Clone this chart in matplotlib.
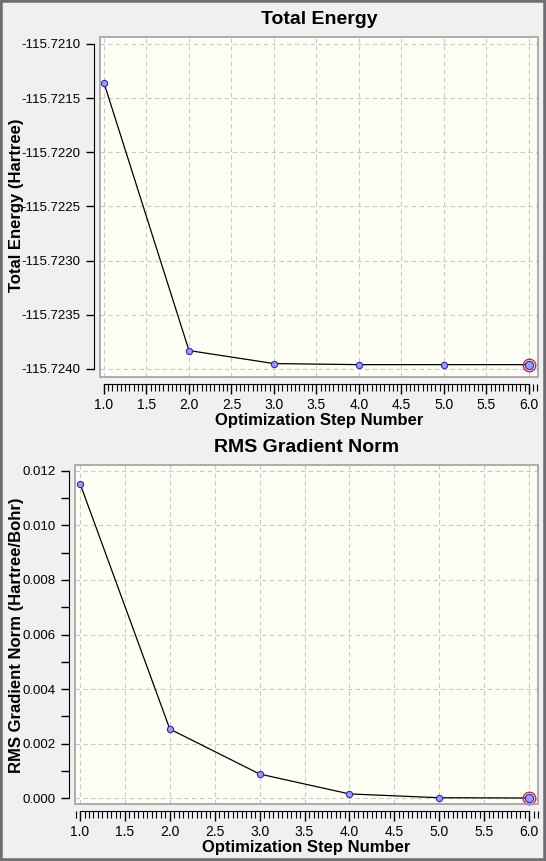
import matplotlib
matplotlib.use("Agg")
import matplotlib.pyplot as plt
from matplotlib.patches import Rectangle
from matplotlib.ticker import MultipleLocator, FormatStrFormatter

steps = [1, 2, 3, 4, 5, 6]
energy = [-115.72136, -115.72383, -115.72395, -115.72396, -115.72396, -115.72396]
rms_grad = [0.01154, 0.00253, 0.00088, 0.00015, 0.00001, 0.0]

plt.rcParams['font.family'] = ['Liberation Sans', 'DejaVu Sans']

W, H = 546, 861
fig = plt.figure(figsize=(W / 100, H / 100), dpi=100)
fig.patch.set_facecolor('#f0f0f0')
# dark window frame
fig.patches.append(Rectangle((0, 0), 1, 1, transform=fig.transFigure, fill=False,
                             edgecolor='#6e6e74', linewidth=4, zorder=10))


def make_axes(left, right, top, bottom):
    return fig.add_axes([left / W, 1 - bottom / H, (right - left) / W, (bottom - top) / H])


def style(ax, xlim, ylim, ymajor, yminor, fmt, title, ylabel, ylab_y):
    ax.set_facecolor('#fffff6')
    for s in ['top', 'right']:
        ax.spines[s].set_visible(False)
    ax.spines['left'].set_position(('outward', 4))
    ax.spines['bottom'].set_position(('outward', 5))
    ax.spines['left'].set_bounds(ymajor[0], ymajor[-1])
    ax.spines['bottom'].set_bounds(1.0, 6.0)
    ax.add_patch(Rectangle((0, 0), 1, 1, transform=ax.transAxes, fill=False,
                           edgecolor='#a0a0a0', linewidth=1.2, clip_on=False, zorder=5))
    ax.set_xlim(*xlim)
    ax.set_ylim(*ylim)
    ax.set_xticks([1.0, 1.5, 2.0, 2.5, 3.0, 3.5, 4.0, 4.5, 5.0, 5.5, 6.0])
    ax.xaxis.set_minor_locator(MultipleLocator(0.05))
    ax.xaxis.set_major_formatter(FormatStrFormatter('%.1f'))
    ax.set_yticks(ymajor)
    if yminor is not None:
        ax.set_yticks(yminor, minor=True)
    ax.yaxis.set_major_formatter(FormatStrFormatter(fmt))
    ax.tick_params(axis='x', which='major', length=7, width=1, labelsize=10, pad=3)
    ax.tick_params(axis='y', which='major', length=6, width=1, labelsize=9.5, pad=4)
    ax.tick_params(axis='x', which='minor', length=5, width=0.8)
    ax.tick_params(axis='y', which='minor', length=6, width=1)
    ax.grid(True, which='major', linestyle=(0, (4, 3)), color='#c8c8c8', linewidth=0.8)
    ax.set_title(title, fontsize=14, fontweight='bold', pad=9)
    ax.set_xlabel('Optimization Step Number', fontsize=12, fontweight='bold', labelpad=1)
    fig.text(17 / W, 1 - ylab_y / H, ylabel, rotation=90, fontsize=12, fontweight='bold',
             ha='center', va='center')


def draw(ax, x, y):
    ax.plot(x, y, color='black', linewidth=0.9, zorder=3)
    ax.plot(x, y, linestyle='none', marker='o', markersize=4.5,
            markerfacecolor='#9a9cf0', markeredgecolor='#2828c0', markeredgewidth=0.8, zorder=4)
    ax.plot(x[-1:], y[-1:], linestyle='none', marker='o', markersize=9,
            markerfacecolor='none', markeredgecolor='#d0204a', markeredgewidth=1.0, zorder=4,
            clip_on=False)
    ax.plot(x[-1:], y[-1:], linestyle='none', marker='o', markersize=6,
            markerfacecolor='#9a9cf0', markeredgecolor='#2828c0', markeredgewidth=0.8, zorder=4,
            clip_on=False)


ax1 = make_axes(100, 538, 37, 377)
e_ticks = [-115.7240, -115.7235, -115.7230, -115.7225, -115.7220, -115.7215, -115.7210]
style(ax1, (0.953, 6.106), (-115.724074, -115.720936), e_ticks, None, '%.4f',
      'Total Energy', 'Total Energy (Hartree)', 205)
draw(ax1, steps, energy)

ax2 = make_axes(75, 538, 465, 804)
g_ticks = [0.000, 0.002, 0.004, 0.006, 0.008, 0.010, 0.012]
g_minor = [0.001, 0.003, 0.005, 0.007, 0.009, 0.011]
style(ax2, (0.944, 6.1), (-0.00022, 0.01222), g_ticks, g_minor, '%.3f',
      'RMS Gradient Norm', 'RMS Gradient Norm (Hartree/Bohr)', 635)
draw(ax2, steps, rms_grad)

fig.savefig('out.png', dpi=100, facecolor=fig.get_facecolor())
